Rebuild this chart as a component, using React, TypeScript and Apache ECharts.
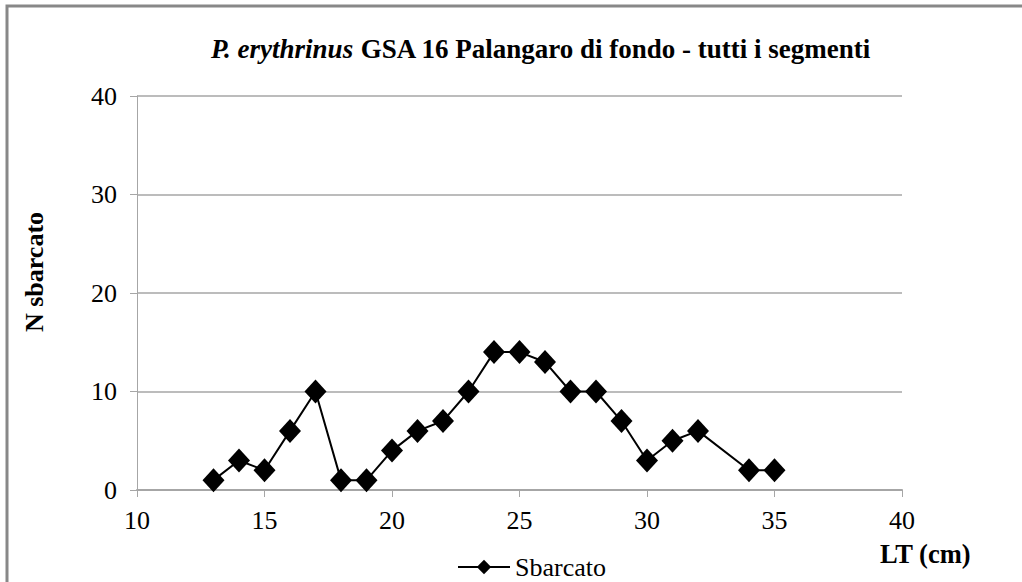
import React, { useEffect, useRef } from "react";
import * as echarts from "echarts";

const lengths = [13, 14, 15, 16, 17, 18, 19, 20, 21, 22, 23, 24, 25, 26, 27, 28, 29, 30, 31, 32, 34, 35];
const counts = [1, 3, 2, 6, 10, 1, 1, 4, 6, 7, 10, 14, 14, 13, 10, 10, 7, 3, 5, 6, 2, 2];
const seriesName = "Sbarcato";
const titleItalic = "P. erythrinus";
const titleRest = " GSA 16 Palangaro di fondo - tutti i segmenti";
const yName = "N sbarcato";
const xName = "LT (cm)";

const FONT = "Liberation Serif";

export default function App() {
  const ref = useRef<HTMLDivElement>(null);
  useEffect(() => {
    if (!ref.current) return;
    const chart = echarts.init(ref.current, undefined, { renderer: "svg" });
    chart.setOption({
      animation: false,
      backgroundColor: "#ffffff",
      textStyle: { fontFamily: FONT },
      title: {
        text: `{i|${titleItalic}}{b|${titleRest}}`,
        left: 536,
        top: 30,
        textAlign: "center",
        textStyle: {
          fontFamily: FONT,
          rich: {
            i: { fontFamily: FONT, fontStyle: "italic", fontWeight: "bold", fontSize: 27, color: "#000" },
            b: { fontFamily: FONT, fontWeight: "bold", fontSize: 27, color: "#000" },
          },
        },
      },
      grid: { left: 137, right: 120, top: 96, bottom: 92 },
      legend: {
        data: [seriesName],
        left: 452,
        top: 548,
        itemWidth: 52,
        itemHeight: 18,
        itemGap: 4,
        textStyle: { fontFamily: FONT, fontSize: 26, color: "#000", lineHeight: 28 },
      },
      xAxis: {
        type: "value",
        min: 10,
        max: 40,
        interval: 5,
        axisLine: { show: true, lineStyle: { color: "#a6a6a6", width: 2 } },
        axisTick: { show: true, length: 7, lineStyle: { color: "#a6a6a6", width: 1 } },
        axisLabel: { fontFamily: FONT, fontSize: 26, color: "#000", margin: 17 },
        splitLine: { show: false },
      },
      yAxis: {
        type: "value",
        min: 0,
        max: 40,
        interval: 10,
        axisLine: { show: true, lineStyle: { color: "#a6a6a6", width: 1 } },
        axisTick: { show: true, length: 7, lineStyle: { color: "#a6a6a6", width: 1 } },
        axisLabel: { fontFamily: FONT, fontSize: 26, color: "#000", margin: 20 },
        splitLine: { show: true, lineStyle: { color: "#a6a6a6", width: 1.5 } },
      },
      series: [
        {
          name: seriesName,
          type: "line",
          data: lengths.map((x, i) => [x, counts[i]]),
          symbol: "diamond",
          symbolSize: [22, 24],
          itemStyle: { color: "#000" },
          lineStyle: { color: "#000", width: 2 },
        },
      ],
      graphic: [
        {
          type: "rect",
          shape: { x: 7, y: 6, width: 1030, height: 600 },
          style: { fill: "none", stroke: "#888888", lineWidth: 3 },
          silent: true,
        },
        {
          type: "text",
          x: 34,
          y: 272,
          rotation: Math.PI / 2,
          style: {
            text: yName,
            fontFamily: FONT,
            fontSize: 26,
            fontWeight: "bold",
            fill: "#000",
            align: "center",
            verticalAlign: "middle",
          },
        },
        {
          type: "text",
          x: 880,
          y: 554,
          style: {
            text: xName,
            fontFamily: FONT,
            fontSize: 26.5,
            fontWeight: "bold",
            fill: "#000",
            align: "left",
            verticalAlign: "middle",
          },
        },
      ],
    });
    return () => chart.dispose();
  }, []);
  return (
    <div
      ref={ref}
      style={{ position: "absolute", left: 0, top: 0, width: 1022, height: 582 }}
    />
  );
}
